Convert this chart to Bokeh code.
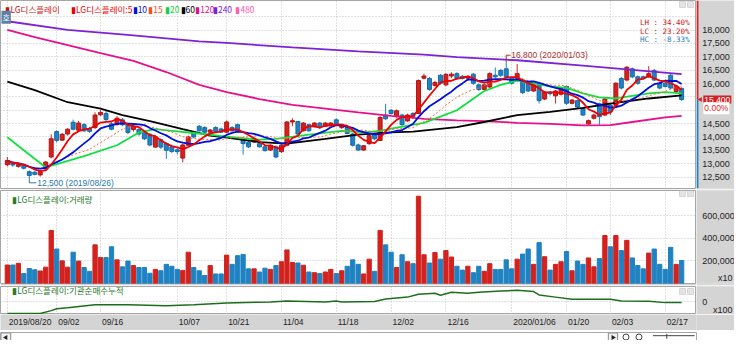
import numpy as np
import pandas as pd
from bokeh.plotting import figure
from bokeh.layouts import column, row
from bokeh.models import Range1d, FixedTicker, Label, BoxAnnotation, ColumnDataSource
from bokeh.core.properties import value
from bokeh.embed import file_html
from bokeh.resources import INLINE

# ---------------- data ----------------
tick_idx = [0, 9, 17, 31, 40, 50, 60, 70, 80, 92, 102, 110, 120]
tick_labels = ["2019/08/20", "09/02", "09/16", "10/07", "10/21", "11/04", "11/18",
               "12/02", "12/16", "2020/01/06", "01/20", "02/03", "02/17"]
holidays = ["2019-09-12", "2019-09-13", "2019-10-03", "2019-10-09", "2019-12-25",
            "2019-12-31", "2020-01-01", "2020-01-24", "2020-01-27"]
price_ticks = [12500, 13000, 13500, 14000, 14500, 16000, 16500, 17000, 17500, 18000]
price_grid = [12500, 13000, 13500, 14000, 14500, 15000, 15500, 16000, 16500, 17000, 17500, 18000, 18500]
vol_ticks = [200000, 400000, 600000]
inst_ticks = [0]

opens = [12960,13050,12900,12950,12700,12680,12580,12800,13250,14200,
         13880,14110,14550,14250,14460,14310,14350,14830,14880,14490,
         14470,14640,14460,14280,14280,14160,14100,13620,13900,13750,
         13630,13520,13210,13690,14150,14400,14350,14180,14350,14300,
         14180,14350,14460,13930,13800,13810,13750,13630,13510,13630,
         13450,13690,14560,14580,14230,14460,14400,14520,14400,14460,
         14640,14350,14370,14110,13700,13510,13750,14080,13870,14820,
         15000,14760,14820,14600,14880,14880,16200,16190,15930,16310,
         15950,16280,16370,16270,16200,16350,15950,15780,15870,16310,
         16490,16550,16190,16130,16130,16010,15720,16010,15420,15680,
         15540,15600,15890,15260,15360,15060,14490,14700,15240,14820,
         15180,15180,16190,16130,16550,16250,16250,16250,16490,16010,
         16010,16310,15700,15820]
highs = [13250,13080,13000,12980,12750,12720,12760,13100,14100,14250,
         14150,14330,14650,14600,14520,14380,14920,15000,15000,14550,
         14780,14700,14500,14450,14330,14200,14150,14050,13950,13800,
         13680,13580,13750,14050,14200,14450,14400,14300,14400,14350,
         14620,14400,14500,14000,13850,13980,13800,13680,13720,13680,
         13720,14600,14700,14600,14560,14500,14560,14560,14560,14560,
         14700,14500,14420,14150,13750,13700,14100,14120,14780,15240,
         15050,15030,14870,14870,14930,16150,16370,16250,16100,16350,
         16400,16420,16420,16320,16300,16400,16000,16000,16420,16600,
         16550,16800,16250,16730,16200,16050,16000,16050,15720,15720,
         15760,15880,15930,15420,15400,15100,14650,14870,15280,15460,
         15220,16050,16250,16650,16600,16300,16300,16650,16550,16050,
         16100,16350,15950,15850]
lows = [12900,12880,12850,12780,12500,12560,12520,12760,13200,13800,
        13850,14050,14250,14200,14180,14150,14300,14780,14600,14250,
        14420,14400,14100,14200,14050,13880,13650,13600,13550,13180,
        13400,13350,13050,13650,13950,14200,14150,14150,14150,14150,
        14150,14200,14150,13340,13580,13770,13600,13450,13470,13200,
        13400,13650,14400,14050,14200,14200,14350,14300,14380,14420,
        14420,14300,14100,13640,13480,13480,13700,13880,13850,14630,
        14830,14720,14420,14560,14700,14850,16150,15730,15880,15950,
        15900,16200,16130,16150,16100,15950,15720,15740,15820,16200,
        16250,16200,15960,16080,15600,15680,15680,15250,15380,15550,
        15250,15550,15200,15220,15080,14780,14450,14650,14460,14780,
        14820,15150,15780,16080,16200,15950,16150,16200,16100,15780,
        15850,15780,15650,15350]
closes = [13120,12950,12960,12830,12560,12600,12700,13060,13930,13870,
          14100,14290,14290,14520,14230,14210,14820,14920,14650,14290,
          14700,14460,14170,14400,14110,13930,13700,14000,13620,13500,
          13460,13450,13700,14000,14000,14230,14180,14260,14200,14180,
          14560,14230,14200,13750,13630,13930,13630,13490,13690,13250,
          13690,14560,14610,14110,14520,14230,14520,14350,14520,14520,
          14460,14460,14130,13690,13510,13670,14050,13930,14730,14680,
          14880,14980,14460,14820,14760,16110,16280,15780,16040,16010,
          16340,16350,16190,16190,16250,16010,15780,15950,16370,16250,
          16310,16250,16010,16370,15660,15720,15950,15360,15680,15620,
          15720,15830,15260,15380,15120,14820,14610,14820,14760,15420,
          14940,16010,15830,16610,16250,16010,16190,16370,16130,15830,
          15890,15830,15900,15400]
volumes = [164000,164000,179000,88000,133000,122000,111000,145000,471000,306000,
           201000,145000,278000,199000,142000,108000,343000,230000,230000,326000,
           210000,148000,199000,159000,142000,142000,91000,125000,113000,170000,
           153000,125000,116000,278000,142000,113000,71000,159000,85000,85000,
           252000,170000,247000,258000,130000,130000,102000,136000,125000,159000,
           193000,298000,187000,182000,162000,102000,96000,88000,102000,125000,
           88000,113000,153000,210000,170000,85000,216000,108000,471000,343000,
           278000,142000,255000,193000,176000,775000,255000,182000,275000,216000,
           292000,235000,153000,119000,153000,96000,153000,108000,176000,125000,
           125000,210000,130000,216000,261000,306000,170000,363000,238000,119000,
           170000,193000,284000,113000,199000,170000,227000,148000,221000,426000,
           326000,426000,292000,383000,227000,159000,130000,270000,306000,170000,
           125000,321000,170000,204000]

# long moving averages (day index, price)
ma20_idx = [0, 7, 14, 20, 24, 27, 30, 35, 40, 46, 49, 55, 61, 65, 68, 71, 76, 79, 82,
            87, 90, 93, 96, 99, 102, 105, 108, 111, 114, 117, 120, 123]
ma20_val = [13990, 12860, 13280, 13690, 14170, 14290, 14230, 14130, 14010, 13900, 13930,
            14090, 14230, 14170, 14230, 14350, 14530, 14760, 15000, 15720, 15950, 16110,
            16010, 15890, 15840, 15630, 15480, 15440, 15540, 15630, 15680, 15630]
ma60_idx = [0, 5, 11, 17, 21, 26, 32, 37, 40, 46, 51, 58, 64, 70, 74, 82, 87, 93, 99,
            105, 111, 117, 123]
ma60_val = [16070, 15750, 15300, 15060, 14820, 14590, 14290, 14050, 13980, 13810, 13750,
            13930, 14090, 14170, 14200, 14370, 14560, 14820, 14940, 15090, 15280, 15440, 15560]
ma120_idx = [0, 5, 11, 17, 23, 29, 35, 40, 46, 52, 58, 64, 70, 76, 82, 87, 93, 99, 105,
             110, 114, 120, 123]
ma120_val = [18010, 17740, 17440, 17140, 16850, 16430, 15950, 15680, 15420, 15200, 15060,
             14920, 14790, 14680, 14620, 14590, 14530, 14490, 14430, 14440, 14560, 14730, 14790]
ma240_idx = [0, 11, 23, 35, 40, 52, 64, 76, 82, 93, 105, 114, 123]
ma240_val = [18330, 18010, 17800, 17580, 17520, 17350, 17200, 17080, 16990, 16870, 16670,
             16510, 16350]

# institutional net-buy cumulative (x100)
inst_idx = [0, 6, 8, 9, 11, 16, 22, 29, 34, 40, 48, 51, 58, 60, 61, 67, 69, 73, 75, 78,
            79, 81, 84, 86, 90, 93, 96, 97, 100, 103, 110, 112, 117, 120, 123]
inst_val = [-1200, -1200, -900, -700, -600, -300, -300, -400, -300, -100, 0, 100, 0, 100,
            0, 50, 300, 500, 800, 900, 700, 1000, 900, 1000, 1130, 1200, 1070, 730, 500,
            270, 270, 100, 70, -70, -70]

# ---------------- derived ----------------
n = len(closes)
days = list(range(n))
dates = [d for d in pd.bdate_range("2019-08-20", periods=n + 20)
         if d.strftime("%Y-%m-%d") not in holidays][:n]
cs = pd.Series(closes, dtype=float)
ma5 = cs.rolling(5, min_periods=1).mean()
ma10 = cs.rolling(10, min_periods=1).mean()
ma15 = cs.rolling(15, min_periods=1).mean()

UP, DN = "#d3221e", "#1f82c2"
UPE, DNE = "#b01414", "#176aa6"
up = [c >= o for o, c in zip(opens, closes)]
cols = [UP if u else DN for u in up]
edges = [UPE if u else DNE for u in up]
src = ColumnDataSource(dict(
    x=days, h=highs, l=lows,
    top=[max(o, c) for o, c in zip(opens, closes)],
    bot=[min(o, c) for o, c in zip(opens, closes)],
    col=cols, edge=edges, vol=volumes))

# ---------------- layout ----------------
W = 734
RW = 38                 # right axis column
LW = W - RW             # main plot width (frame spans it)
SX = LW / 711.0         # reference px -> screen px
GRAY = "#d4d4d4"
GRID = "#c2c2c2"
NUMF = "Liberation Sans"
KRF = "Noto Sans CJK KR"
TXT = "#222222"

X0, X1 = -1.25, 125.71
xr = Range1d(X0, X1)


def sxr(xref):
    return xref * SX


def main_fig(h, yr, top, bottom):
    p = figure(width=LW, height=h, x_range=xr, y_range=yr, output_backend="svg",
               toolbar_location=None, x_axis_location=None, y_axis_location=None,
               title=None, min_border_left=0, min_border_right=0,
               min_border_top=top, min_border_bottom=bottom,
               border_fill_color=GRAY, background_fill_color="white",
               outline_line_color="#a6a6a6")
    p.xgrid.ticker = FixedTicker(ticks=tick_idx)
    p.grid.grid_line_color = GRID
    p.grid.grid_line_dash = "1 2"
    # small window buttons in the panel corner
    for dx in (-17, -9):
        p.add_layout(BoxAnnotation(left=LW + dx, right=LW + dx + 6, top=h - top - 2,
                                   bottom=h - top - 8, left_units="screen", right_units="screen",
                                   top_units="screen", bottom_units="screen",
                                   fill_color="#e4e4e4", fill_alpha=1, line_color="#9a9a9a",
                                   line_width=1))
    return p


def side_fig(h, yr, top, bottom):
    p = figure(width=RW, height=h, x_range=Range1d(0, 39), y_range=yr, output_backend="svg",
               toolbar_location=None, x_axis_location=None, y_axis_location=None,
               title=None, min_border_left=0, min_border_right=0,
               min_border_top=top, min_border_bottom=bottom,
               border_fill_color=GRAY, background_fill_color=GRAY, outline_line_color=None)
    p.grid.visible = False
    return p


def axis_labels(p, ticks, labels):
    p.text(x=[6] * len(ticks), y=ticks, text=labels, text_font=value(NUMF),
           text_font_size="9px", text_color=TXT, text_baseline="middle", text_align="left")


# ---- price panel ----
H1 = 189
S1 = (H1 - 1) / 197.0
yr1 = Range1d(12071, 19107)
p1 = main_fig(H1, yr1, 0, 1)
p1.ygrid.ticker = FixedTicker(ticks=price_grid)


def s1(yref):
    return (197 - yref) * S1


p1.segment(x0="x", y0="l", x1="x", y1="h", source=src, line_color="col", line_width=1)
p1.vbar(x="x", width=0.72, top="top", bottom="bot", source=src,
        fill_color="col", line_color="edge", line_width=1)

p1.line(ma240_idx, ma240_val, line_color="#7d22d8", line_width=1.8)
p1.line(ma120_idx, ma120_val, line_color="#e8108a", line_width=1.8)
p1.line(ma60_idx, ma60_val, line_color="#000000", line_width=1.8)
p1.line(ma20_idx, ma20_val, line_color="#10e040", line_width=1.8)
p1.line(days, ma15, line_color="#ff6a3a", line_width=1, line_dash="2 2")
p1.line(days, ma10, line_color="#0010e0", line_width=1.8)
p1.line(days, ma5, line_color="#f00000", line_width=1.8)

# high / low annotations
imax = int(np.argmax(highs))
imin = int(np.argmin(lows))
hi, lo = highs[imax], lows[imin]
p1.line([imax, imax, imax + 0.8], [hi, hi + 260, hi + 260], line_color="#b03030", line_width=1)
p1.text(x=[imax + 0.9], y=[hi + 260], text=[f"{hi:,} ({dates[imax].strftime('%Y/%m/%d')})"],
        text_font=value(NUMF), text_font_size="8.5px", text_color="#b03030",
        text_baseline="middle", text_align="left")
p1.line([imin, imin, imin + 1.3], [lo, lo - 215, lo - 215], line_color="#2a78b0", line_width=1)
p1.text(x=[imin + 1.45], y=[lo - 215], text=[f"{lo:,} ({dates[imin].strftime('%Y/%m/%d')})"],
        text_font=value(NUMF), text_font_size="8.5px", text_color="#2a78b0",
        text_baseline="middle", text_align="left")

last = closes[-1]
lh = (hi - lo) / lo * 100
lc = (last - lo) / lo * 100
hc = (last - hi) / hi * 100
for txt, yref, colr in [(f"LH : {lh:.2f}%", 23, "#d02020"),
                        (f"LC : {lc:.2f}%", 32, "#d02020"),
                        (f"HC : {hc:.2f}%", 41, "#2a80c0")]:
    p1.add_layout(Label(x=sxr(704), y=s1(yref), x_units="screen", y_units="screen", text=txt,
                        text_font="DejaVu Sans Mono", text_font_size="7.5px", text_color=colr,
                        text_align="right", text_baseline="middle"))

# legend row
legend_items = [(5, "▮LG디스플레이", "#cc1010"), (72, "▮LG디스플레이:5", "#f00000"),
                (135, "▮10", "#0010e0"), (151, "▮15", "#ff4a20"), (168, "▮20", "#10d040"),
                (184, "▮60", "#000000"), (199, "▮120", "#e8108a"), (217, "▮240", "#7d22d8"),
                (240, "▮480", "#ff60b0")]
for xref, txt, colr in legend_items:
    p1.add_layout(Label(x=sxr(xref), y=s1(9), x_units="screen", y_units="screen", text=txt,
                        text_font=KRF, text_font_size="8.5px", text_color=colr,
                        text_baseline="middle", text_align="left"))
p1.add_layout(Label(x=sxr(1), y=s1(17.5), x_units="screen", y_units="screen", text="호",
                    text_font=KRF, text_font_size="8px", text_color="white",
                    background_fill_color="#5a80a8", text_baseline="middle", padding=1))

p1r = side_fig(H1, yr1, 0, 1)
axis_labels(p1r, price_ticks, [f"{t:,}" for t in price_ticks])
p1r.add_layout(BoxAnnotation(left=0, right=2, bottom=last, fill_color="#e02020",
                             fill_alpha=1, line_color=None))
p1r.add_layout(BoxAnnotation(left=0, right=2, top=last, fill_color="#1f82c2",
                             fill_alpha=1, line_color=None))
p1r.scatter(x=[4.0], y=[last], marker="triangle", angle=np.pi / 2, size=5,
            fill_color="#e02020", line_color=None)
p1r.text(x=[7], y=[last], text=[f"{last:,}"], text_color="white",
         background_fill_color="#d42020", text_font=value(NUMF), text_font_size="8.5px",
         text_baseline="middle", text_align="left", padding=1)
p1r.text(x=[7], y=[last - 9 / 0.028], text=["0.00%"], text_color="#e82020",
         background_fill_color="white", text_font=value(NUMF), text_font_size="8.5px",
         text_baseline="middle", text_align="left", padding=1)

# ---- volume panel ----
H2 = 96
S2 = (H2 - 3) / 97.0
yr2 = Range1d(0, 825600)
p2 = main_fig(H2, yr2, 1, 2)
p2.ygrid.ticker = FixedTicker(ticks=vol_ticks)
p2.vbar(x="x", top="vol", width=0.78, source=src, fill_color="col", line_color="col")
p2.add_layout(Label(x=sxr(12), y=(296 - 208) * S2, x_units="screen", y_units="screen",
                    text="▮LG디스플레이:거래량", text_font=KRF, text_font_size="8.5px",
                    text_color="#2a7a2a", text_baseline="middle"))
p2r = side_fig(H2, yr2, 1, 2)
axis_labels(p2r, vol_ticks, [f"{t:,}" for t in vol_ticks])
p2r.text(x=[37], y=[6 * 200000 / 23.5], text=["x10"], text_font=value(NUMF),
         text_font_size="9px", text_color=TXT, text_baseline="middle", text_align="right")

# ---- institutional panel ----
H3 = 29
yr3 = Range1d(-1300, 1600)
p3 = main_fig(H3, yr3, 1, 0)
S3 = (H3 - 1) / 29.0
p3.ygrid.ticker = FixedTicker(ticks=inst_ticks)
p3.line(inst_idx, inst_val, line_color="#1c6e1c", line_width=1.5)
p3.add_layout(Label(x=sxr(12), y=(328 - 303) * S3, x_units="screen", y_units="screen",
                    text="▮LG디스플레이:기관순매수누적", text_font=KRF, text_font_size="8.5px",
                    text_color="#2a7a2a", text_baseline="middle"))
p3r = side_fig(H3, yr3, 1, 0)
axis_labels(p3r, inst_ticks, [f"{t:,}" for t in inst_ticks])
p3r.text(x=[37], y=[-800], text=["x100"], text_font=value(NUMF),
         text_font_size="9px", text_color=TXT, text_baseline="middle", text_align="right")

# ---- date axis band ----
px = figure(width=W, height=16, x_range=xr, y_range=Range1d(0, 1), output_backend="svg",
            toolbar_location=None, title=None, x_axis_location=None, y_axis_location=None,
            min_border_left=0, min_border_right=RW, min_border_top=0, min_border_bottom=0,
            background_fill_color=GRAY, border_fill_color=GRAY, outline_line_color=None)
px.grid.visible = False
px.text(x=tick_idx, y=[0.55] * len(tick_idx), text=tick_labels, x_offset=1.5,
        text_font=value(NUMF), text_font_size="8.5px", text_color=TXT,
        text_baseline="middle", text_align="left")

# ---- scroll strip ----
p4 = figure(width=W, height=10, x_range=Range1d(0, 750), y_range=Range1d(0, 11),
            output_backend="svg", toolbar_location=None, title=None, min_border=0,
            x_axis_location=None, y_axis_location=None, background_fill_color="white",
            border_fill_color="white", outline_line_color="#a8a8a8")
p4.grid.visible = False
p4.quad(left=[0.5, 655], right=[11, 665], bottom=[0.8, 0.8], top=[10.5, 10.5],
        fill_color="#f2f2f2", line_color="#8a8a8a")
p4.scatter([5.8, 660], [5.6, 5.6], marker="triangle", angle=[np.pi / 2, -np.pi / 2],
           size=5, fill_color="#222222", line_color=None)
p4.scatter([674, 688], [6, 6], marker="circle", size=6, fill_color=None, line_color="#444444")
p4.segment(x0=[703, 718], y0=[7.5, 4], x1=[748, 718], y1=[7.5, 9.5], line_color="#444444")

layout = column(row(p1, p1r, spacing=0), row(p2, p2r, spacing=0), row(p3, p3r, spacing=0),
                px, p4, spacing=0)
open("out.html", "w").write(file_html(layout, INLINE))
